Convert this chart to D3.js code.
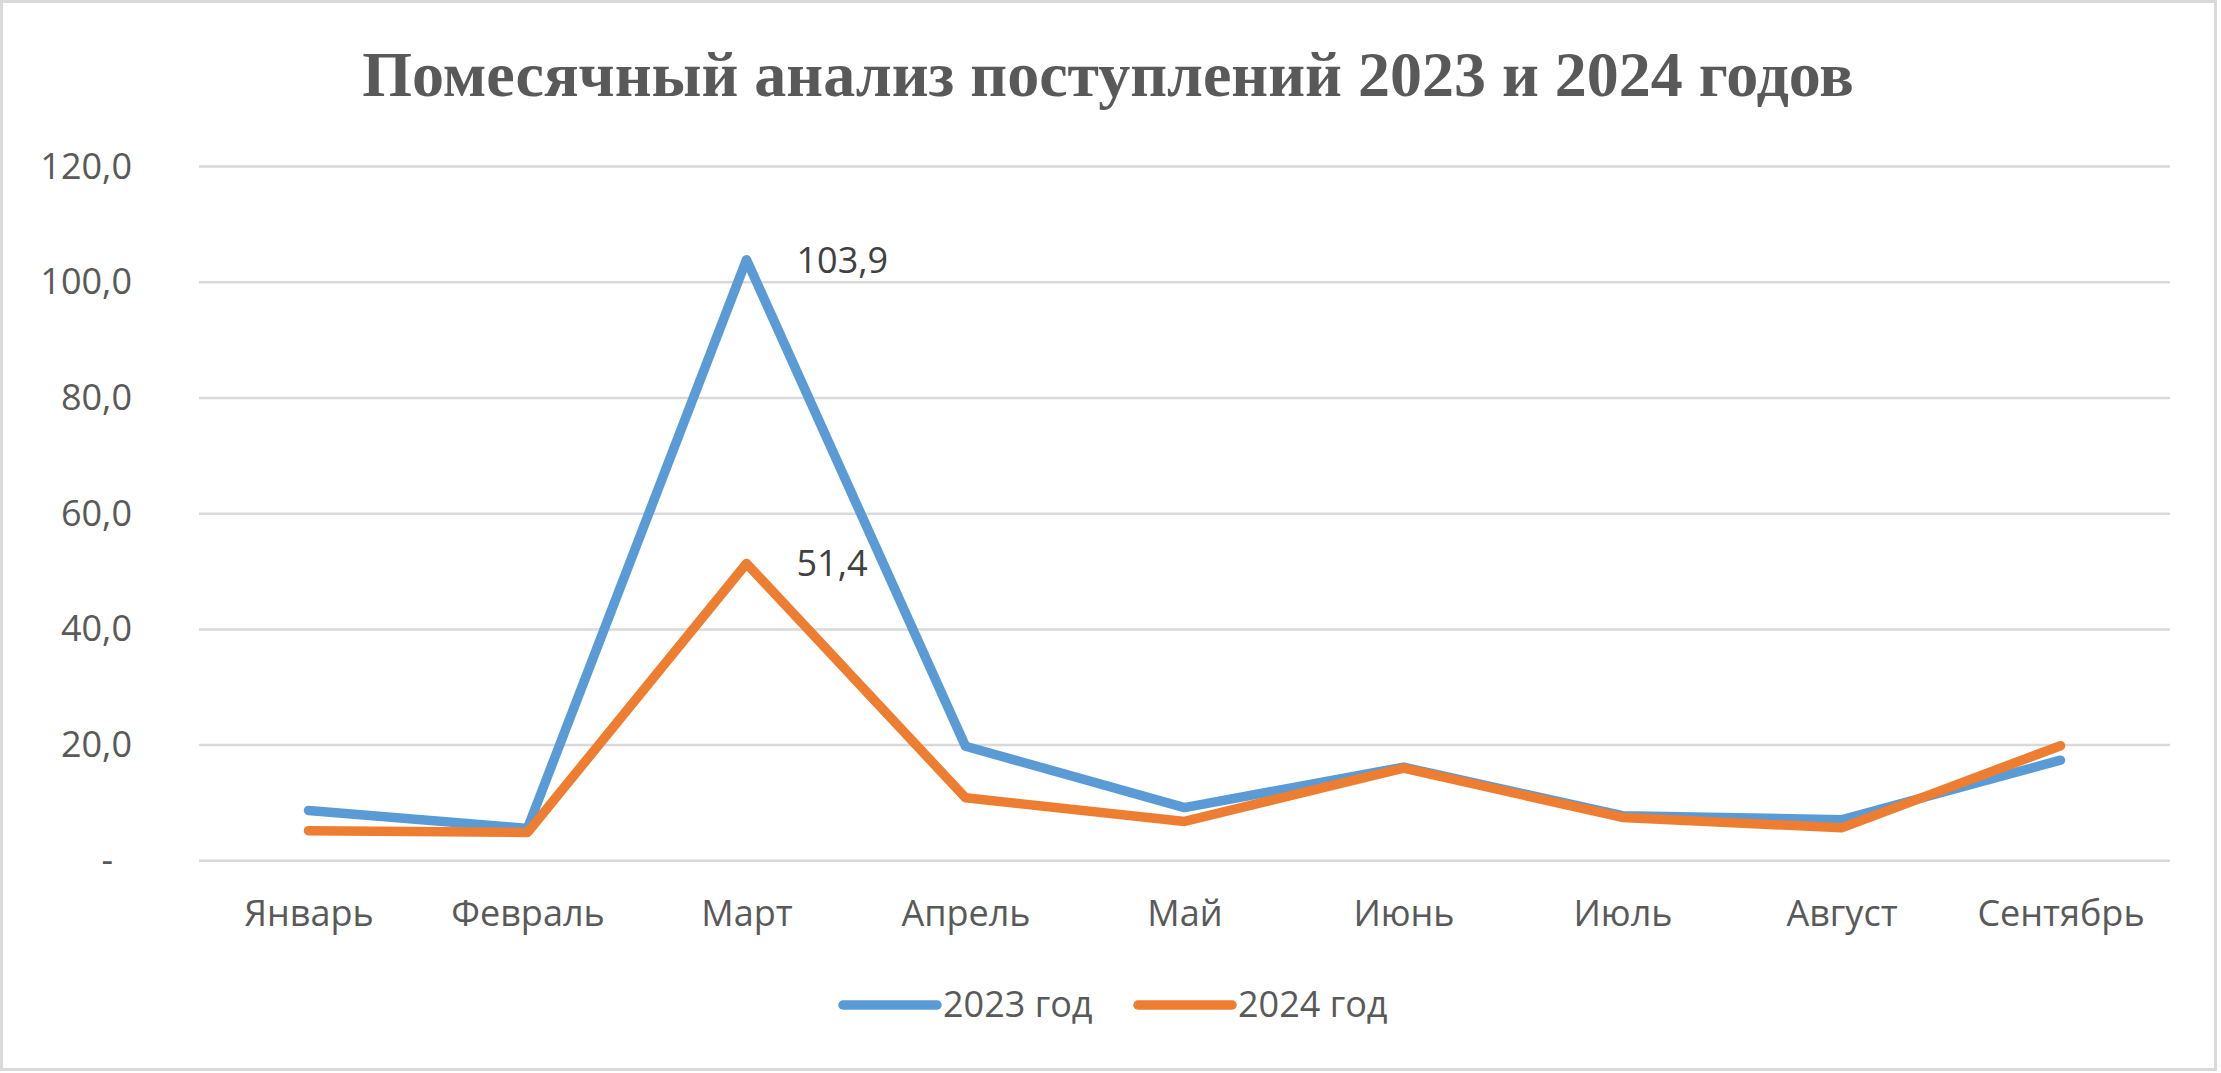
<!DOCTYPE html>
<html>
<head>
<meta charset="utf-8">
<script src="https://cdn.jsdelivr.net/npm/d3@7"></script>
<style>
  html, body { margin: 0; padding: 0; background: #ffffff; }
  svg { display: block; }
</style>
</head>
<body>
<svg id="chart" width="2221" height="1073"></svg>
<script>
const titleText = "Помесячный анализ поступлений 2023 и 2024 годов";
const months = ["Январь", "Февраль", "Март", "Апрель", "Май", "Июнь", "Июль", "Август", "Сентябрь"];
const seriesNames = ["2023 год", "2024 год"];
const values2023 = [8.7, 5.6, 103.9, 19.8, 9.2, 16.2, 7.8, 7.1, 17.4];
const values2024 = [5.2, 4.9, 51.4, 10.9, 6.8, 16.0, 7.5, 5.7, 19.9];
const yTicks = [0, 20, 40, 60, 80, 100, 120];
const labelledMonth = "Март";

const colors = ["#5B9BD5", "#ED7D31"];
const series = [
  { name: seriesNames[0], values: values2023, color: colors[0] },
  { name: seriesNames[1], values: values2024, color: colors[1] }
];

const svg = d3.select("#chart");
const W = 2221, H = 1073;
const plot = { left: 199, right: 2170, top: 166.6, bottom: 860.8 };
const font = "'Open Sans', 'Noto Sans', sans-serif";

// border
svg.append("rect")
  .attr("x", 1.5).attr("y", 1.5)
  .attr("width", 2214).attr("height", 1068)
  .attr("fill", "#ffffff")
  .attr("stroke", "#d9d9d9").attr("stroke-width", 3);

// title
svg.append("text")
  .attr("x", 1108).attr("y", 96)
  .attr("text-anchor", "middle")
  .attr("font-family", "'Liberation Serif', 'Times New Roman', serif")
  .attr("font-weight", "bold")
  .attr("font-size", 64)
  .attr("fill", "#595959")
  .text(titleText);

const x = d3.scalePoint().domain(months).range([plot.left, plot.right]).padding(0.5);
const y = d3.scaleLinear().domain([0, 120]).range([plot.bottom, plot.top]);

// gridlines
svg.append("g").selectAll("line").data(yTicks).join("line")
  .attr("x1", plot.left).attr("x2", plot.right)
  .attr("y1", d => y(d)).attr("y2", d => y(d))
  .attr("stroke", "#d9d9d9").attr("stroke-width", 2.5);

// y axis
const fmt = d => d === 0 ? "-" : d.toFixed(1).replace(".", ",");
const yAxis = svg.append("g")
  .attr("transform", `translate(${plot.left},0)`)
  .call(d3.axisLeft(y).tickValues(yTicks).tickSize(0).tickPadding(67).tickFormat(fmt));
yAxis.select(".domain").remove();
yAxis.selectAll("text")
  .attr("font-family", font).attr("font-size", 36).attr("fill", "#595959")
  .attr("dx", d => d === 0 ? -19 : 0);

// x axis
const xAxis = svg.append("g")
  .attr("transform", `translate(0,${plot.bottom})`)
  .call(d3.axisBottom(x).tickSize(0).tickPadding(40));
xAxis.select(".domain").remove();
xAxis.selectAll("text")
  .attr("font-family", font).attr("font-size", 36).attr("fill", "#595959");

// lines
const line = d3.line().x((d, i) => x(months[i])).y(d => y(d));
svg.append("g").selectAll("path").data(series).join("path")
  .attr("d", d => line(d.values))
  .attr("fill", "none")
  .attr("stroke", d => d.color)
  .attr("stroke-width", 9.5)
  .attr("stroke-linejoin", "round")
  .attr("stroke-linecap", "round");

// data labels
const li = months.indexOf(labelledMonth);
svg.append("g").selectAll("text").data(series).join("text")
  .attr("x", x(labelledMonth) + 50)
  .attr("y", d => y(d.values[li]))
  .attr("dy", "0.36em")
  .attr("font-family", font).attr("font-size", 36).attr("fill", "#404040")
  .text(d => d.values[li].toFixed(1).replace(".", ","));

// legend
const legendX = [843, 1138];
const lg = svg.append("g").selectAll("g").data(series).join("g")
  .attr("transform", (d, i) => `translate(${legendX[i]},1005)`);
lg.append("line")
  .attr("x1", 0).attr("x2", 94).attr("y1", 0).attr("y2", 0)
  .attr("stroke", d => d.color).attr("stroke-width", 9.5).attr("stroke-linecap", "round");
lg.append("text")
  .attr("x", 100).attr("y", 12)
  .attr("font-family", font).attr("font-size", 36).attr("fill", "#595959")
  .text(d => d.name);
</script>
</body>
</html>
